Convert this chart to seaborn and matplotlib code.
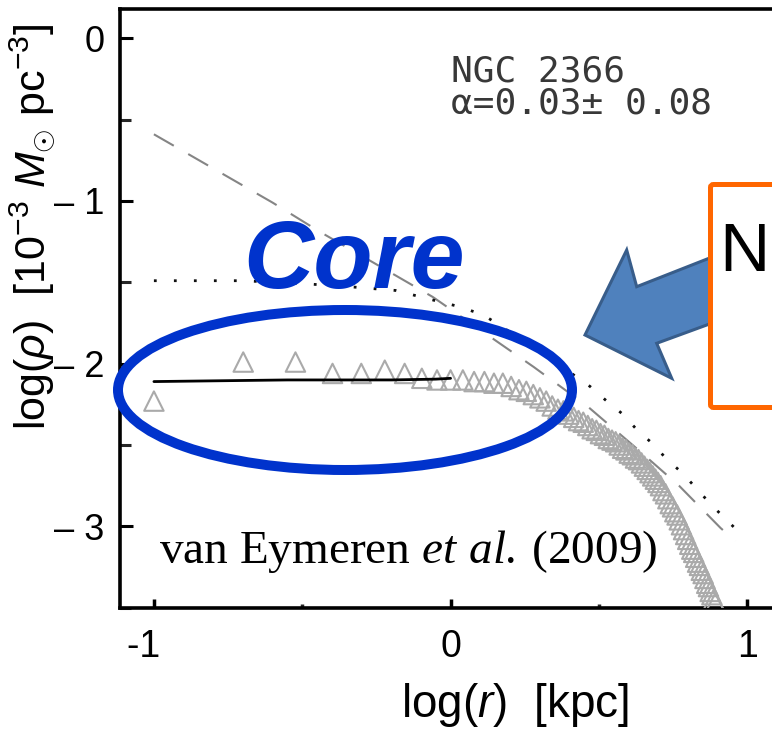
import numpy as np
import pandas as pd
import matplotlib
matplotlib.use("Agg")
import matplotlib.pyplot as plt
import seaborn as sns
from matplotlib.patches import Ellipse, Polygon, FancyBboxPatch

# ---------------- data ----------------
tri_r_kpc = [0.1, 0.2, 0.3, 0.4, 0.5, 0.6, 0.7, 0.8, 0.9, 1.0,
             1.1, 1.2, 1.3, 1.4, 1.5, 1.6, 1.7, 1.8, 1.9, 2.0,
             2.1, 2.2, 2.3, 2.4, 2.5, 2.6, 2.7, 2.8, 2.9, 3.0,
             3.1, 3.2, 3.3, 3.4, 3.5, 3.6, 3.7, 3.8, 3.9, 4.0,
             4.1, 4.2, 4.3, 4.4, 4.5, 4.6, 4.7, 4.8, 4.9, 5.0,
             5.1, 5.2, 5.3, 5.4, 5.5, 5.6, 5.7, 5.8, 5.9, 6.0,
             6.1, 6.2, 6.3, 6.4, 6.5, 6.6, 6.7, 6.8, 6.9, 7.0,
             7.1, 7.2, 7.3, 7.4, 7.5, 7.6, 7.7, 7.8]
tri_logrho = [-2.23, -1.99, -1.99, -2.06, -2.06, -2.04, -2.06, -2.09, -2.10, -2.10,
              -2.10, -2.11, -2.11, -2.12, -2.12, -2.14, -2.16, -2.17, -2.19, -2.21,
              -2.23, -2.26, -2.28, -2.29, -2.31, -2.33, -2.35, -2.36, -2.38, -2.40,
              -2.41, -2.43, -2.44, -2.46, -2.47, -2.48, -2.50, -2.52, -2.53, -2.55,
              -2.56, -2.58, -2.59, -2.61, -2.63, -2.65, -2.67, -2.69, -2.71, -2.73,
              -2.75, -2.78, -2.80, -2.83, -2.86, -2.88, -2.91, -2.93, -2.96, -2.99,
              -3.02, -3.05, -3.08, -3.11, -3.14, -3.16, -3.19, -3.22, -3.24, -3.27,
              -3.29, -3.32, -3.35, -3.37, -3.40, -3.42, -3.45, -3.47]

nfw_logr = [-1.0, -0.6, -0.44, -0.24, -0.06, 0.28, 0.46, 0.62, 0.77, 0.91, 0.96]
nfw_logrho = [-0.59, -1.01, -1.19, -1.40, -1.59, -2.02, -2.26, -2.51, -2.75, -3.01, -3.09]

iso_logr = [-1.0, -0.7, -0.48, -0.32, -0.185, -0.10, 0.03, 0.11, 0.17, 0.33, 0.47,
            0.52, 0.58, 0.63, 0.68, 0.73, 0.78, 0.83, 0.88, 0.93, 0.98]
iso_logrho = [-1.49, -1.49, -1.51, -1.53, -1.55, -1.59, -1.65, -1.70, -1.77, -1.96, -2.14,
              -2.22, -2.31, -2.41, -2.49, -2.59, -2.67, -2.77, -2.87, -2.96, -3.05]

fit_logr = [-1.0, -0.55, -0.2, -0.05, 0.0]
fit_logrho = [-2.11, -2.10, -2.10, -2.095, -2.09]

xticks = [-1, 0, 1]
xticklabels = ["-1  ", "0", "1"]
yticks = [0, -1, -2, -3]
yticklabels = ["0", "\u2013 1", "\u2013 2", "\u2013 3"]

# ---------------- style ----------------
sns.set_theme(style="white")
plt.rcParams["font.family"] = ["Liberation Sans", "DejaVu Sans"]
plt.rcParams["mathtext.fontset"] = "custom"
plt.rcParams["mathtext.rm"] = "Liberation Sans"
plt.rcParams["mathtext.it"] = "Liberation Sans:italic"
plt.rcParams["mathtext.bf"] = "Liberation Sans:bold"
plt.rcParams["mathtext.cal"] = "Liberation Serif:italic"

W, H = 772, 736
fig = plt.figure(figsize=(W / 100, H / 100), dpi=100)

xl, xr = -1.116, 1.2
yb, yt = -3.484, 0.182
left_px, right_px = 119.5, 806.6
top_px, bot_px = 8.7, 607.7
ax = fig.add_axes([left_px / W, 1 - bot_px / H, (right_px - left_px) / W, (bot_px - top_px) / H])

def P(x, y):
    return (x / W, 1 - y / H)

tri_df = pd.DataFrame({"logr": np.log10(tri_r_kpc), "logrho": tri_logrho})
nfw_df = pd.DataFrame({"logr": nfw_logr, "logrho": nfw_logrho})
iso_df = pd.DataFrame({"logr": iso_logr, "logrho": iso_logrho})
fit_df = pd.DataFrame({"logr": fit_logr, "logrho": fit_logrho})

sns.lineplot(data=nfw_df, x="logr", y="logrho", ax=ax, sort=False, estimator=None,
             color="#858585", linewidth=1.5, linestyle=(0, (11, 8)), zorder=2)
sns.lineplot(data=iso_df, x="logr", y="logrho", ax=ax, sort=False, estimator=None,
             color="#111111", linewidth=2.0, linestyle=(0, (1, 6.2)), zorder=2)
sns.scatterplot(data=tri_df, x="logr", y="logrho", ax=ax, marker="^", s=14 ** 2,
                facecolor="none", edgecolor="#aaaaaa", linewidth=1.5, zorder=3)
sns.lineplot(data=fit_df, x="logr", y="logrho", ax=ax, sort=False, estimator=None,
             color="black", linewidth=2.0, zorder=4)

ax.set_xlim(xl, xr)
ax.set_ylim(yb, yt)
ax.set_xlabel("")
ax.set_ylabel("")
ax.set_xticks(xticks)
ax.set_xticklabels(xticklabels, fontsize=27)
ax.set_xticks([-0.5, 0.5], minor=True)
ax.set_yticks(yticks)
ax.set_yticklabels(yticklabels, fontsize=26)
ax.set_yticks([-0.5, -1.5, -2.5, -3.5], minor=True)
ax.tick_params(axis="x", which="major", direction="in", length=6.5, width=2.5,
               bottom=True, top=False, pad=15, colors="black")
ax.tick_params(axis="x", which="minor", direction="in", length=3, width=2.5,
               bottom=True, top=False)
ax.tick_params(axis="y", which="major", direction="in", length=9, width=2.2,
               left=True, right=False, pad=11, colors="black")
ax.tick_params(axis="y", which="minor", direction="in", length=8, width=2.2,
               left=True, right=False)
for s in ["left", "bottom", "top", "right"]:
    ax.spines[s].set_linewidth(2.6)
    ax.spines[s].set_color("black")

# ---------------- texts & annotations ----------------
fig.text(*P(33, 227), r"log($\rho$)  [10$^{-3}$ $M_{\odot}$ pc$^{-3}$]",
         rotation=90, ha="center", va="center", fontsize=31, color="black")
fig.text(*P(515, 705), r"log($r$)  [kpc]", ha="center", va="center",
         fontsize=33, color="black")

fig.text(*P(451, 82), "NGC 2366", family="DejaVu Sans Mono", fontsize=26,
         color="#383838", ha="left", va="baseline")
fig.text(*P(451, 113), "\u03b1=0.03\u00b1 0.08", family="DejaVu Sans Mono", fontsize=26,
         color="#383838", ha="left", va="baseline")

fig.text(*P(159, 563), r"van Eymeren $\mathcal{et\ al.}\,$(2009)",
         family="Liberation Serif", fontsize=34, color="black",
         ha="left", va="baseline", zorder=6)

fig.text(*P(354, 288), "Core", fontsize=70, weight="bold", style="italic",
         color="#0033CC", ha="center", va="baseline", zorder=8)

ell = Ellipse(P(345, 390), width=2 * 227 / W, height=2 * 80 / H,
              transform=fig.transFigure, fill=False, edgecolor="#0033CC",
              linewidth=7.2, zorder=7)
fig.add_artist(ell)

arrow_pts = [P(585, 335), P(626.7, 250), P(636.7, 286.7), P(730, 250),
             P(730, 316.5), P(656.7, 343.3), P(671.7, 378.3)]
arrow = Polygon(arrow_pts, closed=True, transform=fig.transFigure,
                facecolor="#4F81BD", edgecolor="#385D8A", linewidth=2.2,
                joinstyle="miter", zorder=9)
fig.add_artist(arrow)

bx0, by0 = P(710.5, 407.5)
bx1, by1 = P(830, 184.5)
box = FancyBboxPatch((bx0, by0), bx1 - bx0, by1 - by0,
                     boxstyle="round,pad=0,rounding_size=0.004",
                     transform=fig.transFigure, facecolor="white",
                     edgecolor="#FF6600", linewidth=3.6, zorder=10)
fig.add_artist(box)
fig.text(*P(719, 271), "N", fontsize=50, color="black", ha="left",
         va="baseline", zorder=11)

fig.savefig("out.png", dpi=100)
